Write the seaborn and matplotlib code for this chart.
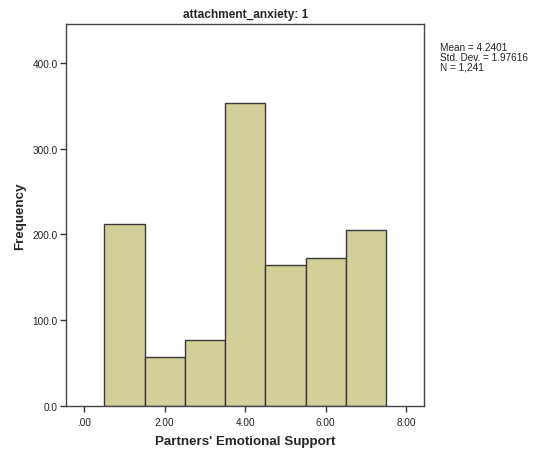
import numpy as np
import matplotlib
matplotlib.use('Agg')
import matplotlib.pyplot as plt
import seaborn as sns

sns.set_style('white')
plt.rcParams['font.family'] = ['Liberation Sans', 'DejaVu Sans']

# data
support_values = [1, 2, 3, 4, 5, 6, 7]
frequencies = [212, 57, 77, 353, 164, 173, 205]
bin_edges = [0.5, 1.5, 2.5, 3.5, 4.5, 5.5, 6.5, 7.5]
x_ticks = [0, 2, 4, 6, 8]
x_tick_labels = ['.00', '2.00', '4.00', '6.00', '8.00']
y_ticks = [0, 100, 200, 300, 400]
y_tick_labels = ['0.0', '100.0', '200.0', '300.0', '400.0']
stats_text = 'Mean = 4.2401\nStd. Dev. = 1.97616\nN = 1,241'

fig = plt.figure(figsize=(5.35, 4.56), dpi=100)
ax = fig.add_axes([0.1234, 0.1075, 0.6696, 0.8375])

sns.histplot(x=support_values, weights=frequencies, bins=bin_edges, ax=ax,
             color='#d3cf98', edgecolor='#3a3a3a', linewidth=1.0, alpha=1.0)

ax.set_xlim(-0.45, 8.45)
ax.set_ylim(0, 445)
ax.set_xticks(x_ticks)
ax.set_xticklabels(x_tick_labels, fontsize=7.2, color='#222222')
ax.set_yticks(y_ticks)
ax.set_yticklabels(y_tick_labels, fontsize=7.2, color='#222222')
ax.tick_params(axis='both', direction='out', length=4, width=1, color='#333333', pad=2)
ax.tick_params(axis='x', bottom=True, pad=4)
ax.tick_params(axis='y', left=True)

for s in ax.spines.values():
    s.set_visible(True)
    s.set_color('#444444')
    s.set_linewidth(1.0)

ax.set_xlabel("Partners' Emotional Support", fontsize=9.6, fontweight='bold')
ax.set_ylabel('Frequency', fontsize=9.6, fontweight='bold')
ax.xaxis.set_label_coords(0.5, -0.075)
ax.yaxis.set_label_coords(-0.112, 0.5)
ax.set_title('attachment_anxiety: 1', fontsize=8.6, fontweight='bold', pad=5)

fig.text(440 / 535, 1 - 43 / 456, stats_text, fontsize=7.2, va='top', ha='left',
         linespacing=1.0, color='#222222')

fig.savefig('out.png', dpi=100, facecolor='white')
